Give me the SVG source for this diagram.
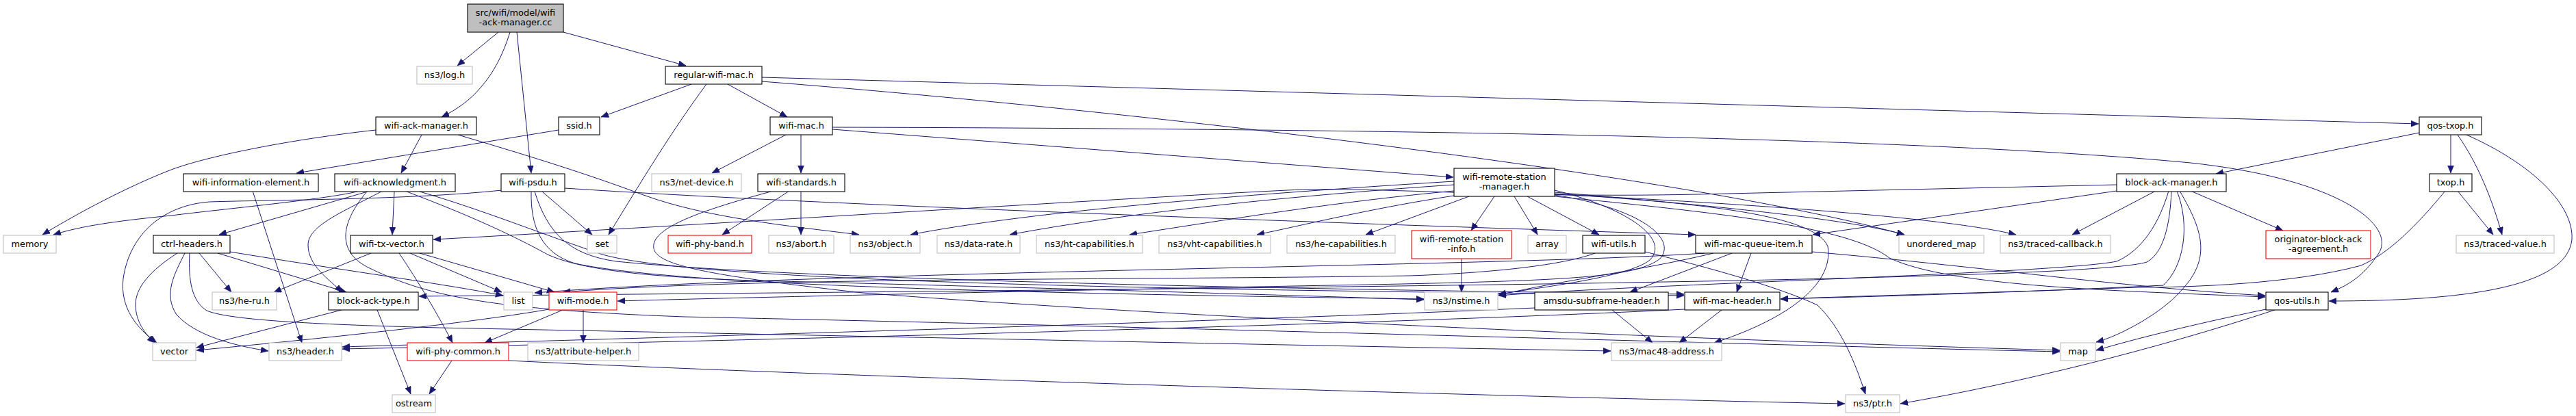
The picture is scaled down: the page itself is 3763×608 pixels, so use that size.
<svg xmlns="http://www.w3.org/2000/svg" width="3763" height="608" viewBox="0 0 3763 608">
<style>
.e{fill:none;stroke:#191970;stroke-width:1;marker-end:url(#a)}
.n rect{fill:#fff;stroke:#000;stroke-width:1.1}
.g rect{fill:#fff;stroke:#bfbfbf;stroke-width:1.1}
.r rect{fill:#fff;stroke:#ff0000;stroke-width:1.1}
.root rect{fill:#bfbfbf;stroke:#000;stroke-width:1.1}
text{font-family:"DejaVu Sans","Liberation Sans",sans-serif;font-size:12.9px;text-anchor:middle;fill:#000}
</style>
<defs>
<marker id="a" markerUnits="userSpaceOnUse" markerWidth="12" markerHeight="10" refX="11" refY="4.5" orient="auto"><path d="M0,0 L11,4.5 L0,9 z" fill="#191970" stroke="#191970" stroke-width="0.5"/></marker>
</defs>
<rect width="3763" height="608" fill="#fff"/>
<g id="edges">
<path class="e" d="M728,47 L668,96"/>
<path class="e" d="M745,47 C735,80 720,108 702,128 C688,145 668,160 645,171"/>
<path class="e" d="M755,47 L776,253"/>
<path class="e" d="M823,47 L1002,96"/>
<path class="e" d="M1010,123 L878,171"/>
<path class="e" d="M1032,123 C975,200 925,285 889,343"/>
<path class="e" d="M1063,123 L1150,171"/>
<path class="e" d="M1113,113 L3533,181"/>
<path class="e" d="M1113,119 C1700,165 2480,260 2782,343"/>
<path class="e" d="M1148,197 L1040,253"/>
<path class="e" d="M1170,197 L1170,253"/>
<path class="e" d="M1216,186 C2000,188 2800,200 3200,238 C3420,262 3500,330 3475,370 C3455,400 3435,415 3405,427"/>
<path class="e" d="M1216,189 L2123,259"/>
<path class="e" d="M549,190 C430,203 300,228 245,250 C170,280 100,320 62,343"/>
<path class="e" d="M616,197 L586,253"/>
<path class="e" d="M669,197 C780,230 860,255 940,285 C1030,318 1150,330 1255,343"/>
<path class="e" d="M816,190 L433,253"/>
<path class="e" d="M369,279 L441,501"/>
<path class="e" d="M522,280 C470,292 330,305 250,315 C170,323 120,330 78,343"/>
<path class="e" d="M537,280 L320,343"/>
<path class="e" d="M557,280 C500,310 450,330 450,358 C450,388 480,408 500,427"/>
<path class="e" d="M576,280 L573,343"/>
<path class="e" d="M536,280 C494,330 494,370 540,392 C620,430 700,452 1000,463 C1800,480 2600,505 3009,514"/>
<path class="e" d="M594,280 C700,320 760,350 800,372 C850,395 950,405 1100,410 C1500,420 1900,432 2080,438"/>
<path class="e" d="M613,280 C700,305 800,345 880,372 C1050,420 2000,425 2460,432"/>
<path class="e" d="M733,278 C600,292 400,292 306,295 C240,300 190,340 180,407 C175,450 200,480 229,501"/>
<path class="e" d="M792,280 L865,343"/>
<path class="e" d="M776,280 C775,330 790,370 840,385 C1000,420 1600,430 2080,437"/>
<path class="e" d="M781,280 C800,340 830,372 900,382 C1200,412 2000,424 2460,430"/>
<path class="e" d="M825,275 C1200,300 2000,328 2477,343"/>
<path class="e" d="M542,370 L400,427"/>
<path class="e" d="M583,370 C610,410 640,460 661,501"/>
<path class="e" d="M599,370 L733,427"/>
<path class="e" d="M613,370 L810,427"/>
<path class="e" d="M259,370 C220,395 198,420 198,445 C198,470 212,488 226,501"/>
<path class="e" d="M270,370 C255,400 238,430 258,460 C285,490 340,505 392,513"/>
<path class="e" d="M277,370 C275,410 280,440 302,454 C340,470 500,475 640,479 C1200,490 1900,505 2353,513"/>
<path class="e" d="M291,370 L338,427"/>
<path class="e" d="M318,370 L506,427"/>
<path class="e" d="M336,368 C500,395 650,415 735,432"/>
<path class="e" d="M499,453 L287,508"/>
<path class="e" d="M551,453 L600,576"/>
<path class="e" d="M802,452 C700,470 500,492 287,512"/>
<path class="e" d="M822,453 L708,501"/>
<path class="e" d="M852,453 L852,501"/>
<path class="e" d="M660,527 L627,576"/>
<path class="e" d="M743,527 C1200,550 2200,580 2695,590"/>
<path class="e" d="M1153,279 L1055,343"/>
<path class="e" d="M1170,279 L1170,343"/>
<path class="e" d="M1126,280 C1030,306 960,330 955,357 C950,385 1010,400 1260,428 C1800,470 2600,500 3009,512"/>
<path class="e" d="M2124,265 C1800,285 1500,310 1330,343"/>
<path class="e" d="M2124,270 C1900,285 1650,310 1475,343"/>
<path class="e" d="M2124,279 C1950,295 1800,320 1650,343"/>
<path class="e" d="M2124,286 C2000,305 1900,330 1836,343"/>
<path class="e" d="M2146,287 L1995,343"/>
<path class="e" d="M2183,287 L2149,337"/>
<path class="e" d="M2212,287 L2246,343"/>
<path class="e" d="M2231,287 L2336,343"/>
<path class="e" d="M2271,278 C2380,305 2440,350 2410,380 C2380,405 2250,420 2189,430"/>
<path class="e" d="M2271,283 C2450,295 2650,310 2670,360 C2680,420 2600,470 2504,501"/>
<path class="e" d="M2271,281 C2500,300 2700,320 2782,343"/>
<path class="e" d="M2271,284 C2600,300 2850,320 2945,343"/>
<path class="e" d="M2271,287 C2500,310 2700,330 2760,377 C2850,420 3100,425 3309,434"/>
<path class="e" d="M2271,285 C2400,305 2450,350 2425,378 C2390,405 2300,410 2000,416 C1500,425 1000,437 902,440"/>
<path class="e" d="M2135,378 L2135,427"/>
<path class="e" d="M2330,370 C2290,385 2200,398 2060,403 C1600,410 1100,405 822,427"/>
<path class="e" d="M2403,368 C2500,392 2600,420 2655,446 C2690,480 2710,530 2725,576"/>
<path class="e" d="M2530,370 L2381,427"/>
<path class="e" d="M2558,370 L2537,427"/>
<path class="e" d="M2503,370 C2400,395 2250,415 2189,432"/>
<path class="e" d="M2490,370 C2200,390 1200,395 781,428"/>
<path class="e" d="M2647,368 C2900,390 3100,420 3309,432"/>
<path class="e" d="M2355,453 L2414,501"/>
<path class="e" d="M2242,450 C1800,470 900,495 500,507"/>
<path class="e" d="M2515,453 L2453,501"/>
<path class="e" d="M2461,452 C2000,475 1000,500 500,510"/>
<path class="e" d="M3310,452 C3200,475 3120,495 3062,512"/>
<path class="e" d="M3323,453 C3150,510 2950,560 2776,590"/>
<path class="e" d="M3092,270 L2480,284 C2200,290 2000,272 1880,278 C1600,292 1000,330 633,350"/>
<path class="e" d="M3092,279 L2648,343"/>
<path class="e" d="M3149,279 L3027,343"/>
<path class="e" d="M3168,279 C3150,340 3120,370 3092,382 C3000,400 2400,415 2189,432"/>
<path class="e" d="M3172,279 C3170,330 3160,370 3136,383 C3050,410 2000,420 612,433"/>
<path class="e" d="M3180,279 C3200,330 3190,390 3160,417 C3000,425 2800,432 2601,437"/>
<path class="e" d="M3184,279 C3220,340 3230,380 3184,427 C3160,455 3100,490 3062,500"/>
<path class="e" d="M3200,279 L3335,337"/>
<path class="e" d="M3534,194 L3237,254"/>
<path class="e" d="M3580,197 L3580,253"/>
<path class="e" d="M3590,197 C3620,240 3640,290 3655,343"/>
<path class="e" d="M3603,197 C3700,240 3760,300 3757,350 C3750,420 3600,440 3402,440"/>
<path class="e" d="M3590,279 L3642,343"/>
<path class="e" d="M3572,279 C3530,330 3490,370 3449,388 C3350,415 3200,420 3123,420 C2900,428 2700,433 2601,437"/>
</g>
<g id="root" class="root"><rect x="683" y="6" width="140" height="41"/><text x="753" y="22.5">src/wifi/model/wifi</text><text x="753" y="37">-ack-manager.cc</text></g>
<g id="log" class="g"><rect x="609" y="97" width="81" height="26"/><text x="649.5" y="114">ns3/log.h</text></g>
<g id="rwm" class="n"><rect x="972" y="97" width="141" height="26"/><text x="1042.5" y="114">regular-wifi-mac.h</text></g>
<g id="wam" class="n"><rect x="549" y="171" width="147" height="26"/><text x="622.5" y="188">wifi-ack-manager.h</text></g>
<g id="ssid" class="n"><rect x="816" y="171" width="60" height="26"/><text x="846" y="188">ssid.h</text></g>
<g id="wmac" class="n"><rect x="1125" y="171" width="91" height="26"/><text x="1170.5" y="188">wifi-mac.h</text></g>
<g id="qtx" class="n"><rect x="3534" y="171" width="91" height="26"/><text x="3579.5" y="188">qos-txop.h</text></g>
<g id="wie" class="n"><rect x="268" y="254" width="197" height="26"/><text x="366.5" y="271">wifi-information-element.h</text></g>
<g id="wack" class="n"><rect x="489" y="254" width="176" height="26"/><text x="577" y="271">wifi-acknowledgment.h</text></g>
<g id="psdu" class="n"><rect x="732" y="254" width="93" height="26"/><text x="778.5" y="271">wifi-psdu.h</text></g>
<g id="netdev" class="g"><rect x="952" y="254" width="131" height="26"/><text x="1017.5" y="271">ns3/net-device.h</text></g>
<g id="wstd" class="n"><rect x="1107" y="254" width="127" height="26"/><text x="1170.5" y="271">wifi-standards.h</text></g>
<g id="wrsm" class="n"><rect x="2124" y="246" width="147" height="41"/><text x="2197.5" y="262.5">wifi-remote-station</text><text x="2197.5" y="277">-manager.h</text></g>
<g id="bam" class="n"><rect x="3092" y="254" width="160" height="26"/><text x="3172" y="271">block-ack-manager.h</text></g>
<g id="txop" class="n"><rect x="3549" y="254" width="62" height="26"/><text x="3580" y="271">txop.h</text></g>
<g id="memory" class="g"><rect x="5" y="344" width="77" height="26"/><text x="43.5" y="361">memory</text></g>
<g id="ctrl" class="n"><rect x="224" y="344" width="112" height="26"/><text x="280" y="361">ctrl-headers.h</text></g>
<g id="wtxv" class="n"><rect x="512" y="344" width="120" height="26"/><text x="572" y="361">wifi-tx-vector.h</text></g>
<g id="set" class="g"><rect x="858" y="344" width="43" height="26"/><text x="879.5" y="361">set</text></g>
<g id="wpb" class="r"><rect x="976" y="344" width="122" height="26"/><text x="1037" y="361">wifi-phy-band.h</text></g>
<g id="abort" class="g"><rect x="1123" y="344" width="95" height="26"/><text x="1170.5" y="361">ns3/abort.h</text></g>
<g id="object" class="g"><rect x="1242" y="344" width="102" height="26"/><text x="1293" y="361">ns3/object.h</text></g>
<g id="datarate" class="g"><rect x="1369" y="344" width="121" height="26"/><text x="1429.5" y="361">ns3/data-rate.h</text></g>
<g id="htcap" class="g"><rect x="1514" y="344" width="155" height="26"/><text x="1591.5" y="361">ns3/ht-capabilities.h</text></g>
<g id="vhtcap" class="g"><rect x="1693" y="344" width="163" height="26"/><text x="1774.5" y="361">ns3/vht-capabilities.h</text></g>
<g id="hecap" class="g"><rect x="1880" y="344" width="158" height="26"/><text x="1959" y="361">ns3/he-capabilities.h</text></g>
<g id="wrsi" class="r"><rect x="2062" y="337" width="146" height="41"/><text x="2135" y="353.5">wifi-remote-station</text><text x="2135" y="368">-info.h</text></g>
<g id="array" class="g"><rect x="2232" y="344" width="56" height="26"/><text x="2260" y="361">array</text></g>
<g id="wutils" class="n"><rect x="2312" y="344" width="91" height="26"/><text x="2357.5" y="361">wifi-utils.h</text></g>
<g id="wmqi" class="n"><rect x="2477" y="344" width="170" height="26"/><text x="2562" y="361">wifi-mac-queue-item.h</text></g>
<g id="umap" class="g"><rect x="2774" y="344" width="124" height="26"/><text x="2836" y="361">unordered_map</text></g>
<g id="tcb" class="g"><rect x="2922" y="344" width="161" height="26"/><text x="3002.5" y="361">ns3/traced-callback.h</text></g>
<g id="oba" class="r"><rect x="3310" y="337" width="153" height="41"/><text x="3386.5" y="353.5">originator-block-ack</text><text x="3386.5" y="368">-agreement.h</text></g>
<g id="tval" class="g"><rect x="3588" y="344" width="143" height="26"/><text x="3659.5" y="361">ns3/traced-value.h</text></g>
<g id="heru" class="g"><rect x="310" y="427" width="94" height="26"/><text x="357" y="444">ns3/he-ru.h</text></g>
<g id="bat" class="n"><rect x="480" y="427" width="131" height="26"/><text x="545.5" y="444">block-ack-type.h</text></g>
<g id="list" class="g"><rect x="736" y="427" width="42" height="26"/><text x="757" y="444">list</text></g>
<g id="wmode" class="r"><rect x="802" y="427" width="99" height="26"/><text x="851.5" y="444">wifi-mode.h</text></g>
<g id="nstime" class="g"><rect x="2081" y="427" width="107" height="26"/><text x="2134.5" y="444">ns3/nstime.h</text></g>
<g id="amsdu" class="n"><rect x="2242" y="427" width="195" height="26"/><text x="2339.5" y="444">amsdu-subframe-header.h</text></g>
<g id="wmh" class="n"><rect x="2461" y="427" width="139" height="26"/><text x="2530.5" y="444">wifi-mac-header.h</text></g>
<g id="qutils" class="n"><rect x="3310" y="427" width="91" height="26"/><text x="3355.5" y="444">qos-utils.h</text></g>
<g id="vector" class="g"><rect x="223" y="501" width="63" height="26"/><text x="254.5" y="518">vector</text></g>
<g id="header" class="g"><rect x="393" y="501" width="106" height="26"/><text x="446" y="518">ns3/header.h</text></g>
<g id="wpc" class="r"><rect x="595" y="501" width="148" height="26"/><text x="669" y="518">wifi-phy-common.h</text></g>
<g id="attr" class="g"><rect x="771" y="501" width="162" height="26"/><text x="852" y="518">ns3/attribute-helper.h</text></g>
<g id="mac48" class="g"><rect x="2354" y="501" width="161" height="26"/><text x="2434.5" y="518">ns3/mac48-address.h</text></g>
<g id="map" class="g"><rect x="3010" y="501" width="51" height="26"/><text x="3035.5" y="518">map</text></g>
<g id="ostream" class="g"><rect x="573" y="577" width="63" height="26"/><text x="604.5" y="594">ostream</text></g>
<g id="ptr" class="g"><rect x="2696" y="577" width="79" height="26"/><text x="2735.5" y="594">ns3/ptr.h</text></g>
</svg>
